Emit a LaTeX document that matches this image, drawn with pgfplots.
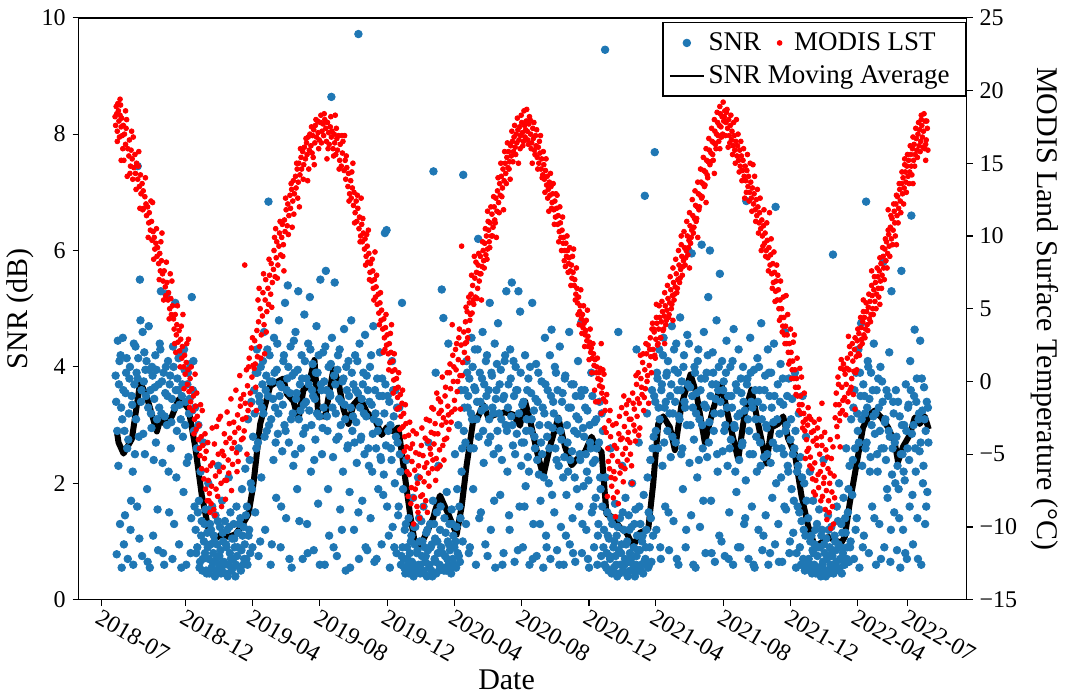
\documentclass[border=0pt]{standalone}
\usepackage{pgfplots}
\pgfplotsset{compat=1.18}
\usepackage{fontspec}
\setmainfont{Liberation Serif}
\definecolor{snrblue}{RGB}{31,119,180}
\definecolor{lstred}{RGB}{255,0,0}
\begin{document}
\begin{tikzpicture}
\pgfplotsset{
  common/.style={
    scale only axis, width=444pt, height=291pt,
    xmin=-41, xmax=1568,
    tick align=outside, major tick length=3pt,
    every tick/.style={black, line width=0.6pt},
    axis line style={line width=0.75pt},
    tick label style={font=\fontsize{12}{14}\selectfont},
    label style={font=\fontsize{15}{18}\selectfont},
  },
  snrmk/.style={only marks, mark=*, mark size=1.9pt, color=snrblue},
  lstmk/.style={only marks, mark=*, mark size=1.2pt, color=lstred},
}
\begin{axis}[common,
  ymin=0, ymax=10,
  xtick={0,153,274,396,518,640,762,884,1005,1127,1249,1370,1461},
  xticklabels={2018-07,2018-12,2019-04,2019-08,2019-12,2020-04,2020-08,2020-12,2021-04,2021-08,2021-12,2022-04,2022-07},
  xticklabel style={rotate=-30, anchor=north west, inner sep=1pt},
  ytick={0,2,4,6,8,10}, yticklabels={0,2,4,6,8,10},
  xtick pos=left, ytick pos=left,
  xlabel={Date}, ylabel={SNR (dB)},
  xlabel style={xshift=-8pt, yshift=1.5pt},
  ylabel shift=-3pt,
]
\addplot[snrmk] coordinates {
(26,3.85) (28,0.78) (30,4.45) (31,2.3) (33,4.1) (34,1.3) (36,3.3) (37,0.55) (39,4.5) (40,3.6) (42,2.9) (43,1.45) (45,3.9) (47,2.6) (48,0.7) (50,3.2) (52,4.0) (53,1.2) (55,3.5) (57,2.2) (58,0.6) (60,3.7) (62,4.35) (63,3.1) (65,1.6) (66,3.8) (66,7.45) (68,2.8) (70,5.5) (71,4.8) (72,3.4) (74,0.75) (75,4.6) (77,3.75) (79,2.5) (80,3.95) (82,4.1) (83,1.9) (85,3.3) (86,4.7) (88,0.55) (89,3.6) (91,2.95) (93,3.85) (94,1.1) (96,3.45) (98,4.2) (99,2.7) (101,3.1) (103,0.85) (104,3.7) (106,4.4) (108,5.3) (109,3.2) (111,2.35) (113,3.9) (114,0.6) (116,3.55) (118,5.25) (119,3.0) (121,4.1) (123,1.5) (124,3.7) (126,2.6) (128,3.45) (129,0.7) (131,4.0) (133,3.3) (134,5.1) (136,2.1) (138,3.8) (139,3.6) (141,0.95) (143,4.25) (144,3.1) (146,3.5) (148,2.8) (149,1.85) (151,3.95) (153,3.4) (154,0.6) (156,3.7) (158,2.45) (159,3.2) (161,4.05) (163,1.4) (164,5.2) (166,3.6) (168,2.9)
(170,3.3) (171,1.2) (173,2.6) (174,0.9) (176,3.0) (177,1.7) (179,0.65) (180,2.2) (182,1.35) (183,0.5) (185,2.7) (186,1.0) (188,0.8) (189,1.55) (191,0.45) (192,1.15) (194,2.0) (195,0.7) (197,1.3) (198,0.95) (200,0.55) (201,1.6) (203,0.8) (204,1.1) (206,0.4) (207,1.45) (209,0.7) (210,0.95) (212,2.3) (213,0.6) (215,1.25) (216,0.85) (218,0.5) (219,1.7) (221,1.0) (222,0.65) (224,1.35) (225,0.45) (227,0.9) (228,1.2) (230,0.6) (231,2.1) (233,0.8) (234,1.5) (236,0.5) (237,1.05) (239,0.7) (240,1.3) (242,0.9) (243,0.4) (245,1.6) (246,0.75) (248,1.15) (249,2.6) (251,0.55) (252,1.4) (254,0.85) (255,1.9) (257,0.6) (258,1.25) (260,0.95) (261,2.25) (263,0.7) (264,1.6) (266,3.1) (267,1.1) (269,2.4) (270,0.8) (272,3.4) (273,1.9) (275,2.8)
(277,3.6) (279,1.5) (280,3.9) (282,4.3) (284,2.7) (285,0.75) (287,3.4) (289,4.0) (290,2.1) (292,3.7) (294,3.2) (295,4.6) (297,1.2) (299,3.85) (300,2.9) (302,3.5) (303,6.84) (305,4.2) (307,0.6) (308,3.1) (310,3.75) (312,2.4) (313,4.5) (315,3.3) (317,1.75) (318,3.95) (320,2.85) (322,4.8) (323,3.5) (325,0.9) (327,3.65) (328,2.55) (330,4.1) (332,3.0) (333,5.1) (335,1.4) (337,3.8) (338,5.4) (340,2.7) (342,3.55) (343,4.35) (345,0.55) (347,3.2) (348,2.3) (350,3.9) (352,4.6) (353,3.45) (355,1.9) (357,5.3) (358,3.1) (360,3.7) (362,2.6) (363,4.2) (365,0.7) (367,3.35) (368,4.9) (370,2.95) (372,3.8) (373,1.3) (375,4.4) (377,3.25) (378,5.2) (380,2.2) (382,3.6) (383,4.05) (385,0.85) (387,3.45) (388,2.75) (390,4.7) (392,3.9) (393,1.65) (395,3.15) (397,5.5) (398,3.7) (400,2.5) (402,4.25) (403,3.3) (405,0.6) (407,5.65) (408,3.6) (410,2.9) (412,4.0) (413,1.1) (415,3.5) (417,8.64) (418,4.5) (420,2.45) (422,3.85) (423,5.45) (425,3.2) (427,0.75) (428,3.95) (430,2.8) (432,4.3) (433,1.55) (435,3.4) (437,3.75) (438,2.2) (440,4.65) (442,3.1) (443,0.5) (445,3.6) (447,2.65) (448,4.1) (450,1.85) (452,3.3) (453,4.8) (455,2.9) (457,3.7) (458,1.2) (460,4.2) (462,3.05) (463,2.35) (465,3.55) (466,9.72) (467,0.7) (468,4.4) (470,2.75) (472,3.45) (473,1.7) (475,3.9) (477,2.5) (478,4.55) (480,3.15) (482,0.85) (483,3.6) (485,2.3) (487,4.0) (488,1.4) (490,3.35) (492,2.85) (493,4.7) (495,0.65) (497,3.2) (498,2.6) (500,3.8) (502,1.9) (503,3.05) (505,4.25) (507,2.4) (508,0.95) (510,3.5) (512,2.15) (514,6.3) (515,3.7) (517,6.35) (518,1.6) (520,2.9) (522,3.4) (523,0.55) (525,2.6) (527,4.1) (528,1.25) (530,3.15) (532,2.0) (533,3.6) (535,0.8) (537,2.7) (538,1.45) (540,3.3) (542,2.2) (543,0.6) (545,5.1)
(547,1.9) (548,0.7) (550,1.2) (551,0.45) (553,2.4) (554,0.9) (556,0.6) (557,1.4) (559,0.8) (560,0.5) (562,1.1) (563,0.65) (565,1.75) (566,0.4) (568,0.95) (569,1.25) (571,0.55) (572,0.8) (574,2.1) (575,0.6) (577,1.0) (578,0.45) (580,1.35) (581,0.75) (583,0.5) (584,1.6) (586,0.9) (587,0.65) (589,1.15) (590,0.4) (592,0.85) (593,2.7) (595,0.6) (596,1.3) (598,0.5) (599,0.95) (601,1.7) (602,7.36) (604,0.7) (605,1.05) (606,3.9) (607,0.45) (608,1.5) (610,0.8) (611,2.3) (613,0.6) (614,1.2) (616,0.9) (617,5.33) (619,0.55) (620,4.84) (622,1.4) (623,0.75) (625,0.5) (626,1.85) (628,1.0) (629,4.4) (629,0.6) (631,1.3) (632,0.85) (634,0.45) (635,1.55) (637,0.7) (638,1.1) (640,0.9) (641,2.5) (643,0.55) (644,1.25) (646,0.8) (647,3.0) (649,1.6) (650,0.65) (652,3.6) (653,2.2) (655,1.0)
(656,7.3) (657,2.9) (659,3.6) (661,1.3) (662,4.1) (664,3.3) (666,0.8) (667,3.8) (669,2.6) (671,4.5) (672,3.1) (674,1.9) (676,3.65) (677,4.3) (679,0.6) (681,3.4) (683,6.2) (684,2.8) (686,3.9) (688,1.5) (689,3.25) (691,4.6) (693,2.35) (694,3.7) (696,0.95) (698,3.5) (699,4.2) (701,2.7) (703,3.1) (704,5.1) (706,1.2) (708,3.85) (709,3.3) (711,2.5) (713,4.4) (714,0.55) (716,3.6) (718,2.9) (719,4.75) (721,3.2) (723,1.8) (724,3.95) (726,2.4) (728,3.45) (729,0.8) (731,4.1) (733,3.0) (734,5.3) (736,2.2) (738,3.7) (739,1.45) (741,4.3) (743,3.15) (744,5.45) (746,2.65) (748,3.5) (749,0.65) (751,4.0) (753,2.85) (754,3.6) (756,5.3) (758,1.6) (759,4.95) (761,2.3) (763,3.35) (764,0.9) (766,2.7) (768,4.2) (769,1.95) (771,3.1) (773,2.45) (774,3.8) (776,0.6) (778,2.9) (779,3.55) (781,5.1) (783,1.3) (784,3.25) (786,2.6) (788,4.05) (789,0.75) (791,3.4) (793,2.15) (794,3.0) (796,1.7) (798,3.75) (799,2.5) (801,0.55) (803,3.2) (804,4.5) (806,1.1) (808,2.8) (809,3.6) (811,2.0) (813,4.2) (814,0.7) (816,4.64) (818,2.95) (819,3.4) (821,1.5) (823,2.6) (824,3.9) (826,0.85) (828,3.1) (829,2.3) (831,4.35) (833,1.25) (834,2.75) (836,3.55) (838,0.6) (839,2.45) (841,3.85) (843,1.8) (844,3.0) (846,2.2) (848,4.6) (849,0.95) (851,3.3) (853,2.55) (854,1.4) (856,3.7) (858,2.1) (859,0.65) (861,3.15) (863,2.85) (864,4.1) (866,1.6) (868,2.4) (869,3.5) (870,4.77) (871,0.8) (873,2.95) (874,1.95) (876,3.6) (878,2.5) (879,1.2) (881,3.25) (883,2.05) (884,0.55) (886,2.7) (888,3.9) (889,1.5) (891,2.35) (893,0.9) (894,3.05) (896,1.75) (898,2.6) (899,0.6) (901,1.3) (903,3.4) (904,2.1) (906,0.75) (908,1.6) (909,2.9)
(911,1.2) (912,0.6) (913,9.45) (914,2.1) (916,0.8) (917,1.5) (919,0.5) (920,1.05) (922,0.7) (923,2.6) (925,0.45) (926,1.3) (928,0.9) (929,0.55) (931,1.65) (932,0.75) (934,1.1) (935,0.4) (937,4.6) (938,0.85) (940,1.4) (941,0.6) (943,0.95) (944,2.3) (946,0.5) (947,1.2) (949,0.7) (950,1.75) (952,0.45) (953,1.0) (955,0.65) (956,1.45) (958,0.8) (959,0.5) (961,1.25) (962,2.0) (964,0.6) (965,0.9) (967,0.4) (968,1.55) (970,0.75) (970,4.3) (971,1.1) (973,0.5) (974,2.7) (976,0.85) (977,1.3) (979,0.6) (980,1.0) (982,0.45) (983,1.8) (985,6.94) (986,0.7) (988,1.2) (989,3.2) (991,0.55) (992,1.5) (994,0.9) (995,2.4) (997,0.65) (998,3.6) (1000,1.1)
(1001,2.8) (1003,7.69) (1004,3.4) (1006,1.2) (1007,3.9) (1009,2.6) (1011,4.3) (1012,3.1) (1014,0.7) (1016,3.7) (1017,2.3) (1019,4.5) (1021,3.3) (1022,1.6) (1024,3.85) (1026,2.9) (1027,4.1) (1029,0.85) (1031,3.5) (1032,2.45) (1034,4.7) (1036,3.2) (1037,1.35) (1039,3.95) (1041,2.7) (1042,4.4) (1044,3.6) (1046,0.6) (1047,3.15) (1049,4.85) (1051,2.5) (1052,3.75) (1054,1.9) (1056,4.2) (1057,3.4) (1059,0.9) (1061,3.0) (1062,4.55) (1064,6.0) (1066,2.35) (1067,3.65) (1069,1.45) (1070,5.95) (1072,3.3) (1074,2.75) (1075,4.0) (1077,0.55) (1079,3.55) (1080,2.1) (1082,4.3) (1084,3.1) (1085,1.25) (1087,3.8) (1088,6.1) (1090,2.6) (1092,4.6) (1093,3.35) (1095,0.8) (1097,3.9) (1098,2.45) (1100,5.2) (1102,3.05) (1103,6.0) (1105,1.7) (1107,3.7) (1108,4.25) (1110,2.9) (1112,0.65) (1113,3.45) (1115,4.8) (1117,2.2) (1118,3.6) (1120,1.1) (1121,5.6) (1123,3.2) (1125,4.1) (1126,2.55) (1128,3.75) (1130,0.75) (1131,3.0) (1133,4.45) (1135,2.3) (1136,3.5) (1138,1.5) (1140,4.0) (1141,2.75) (1143,3.3) (1145,0.6) (1146,4.65) (1148,2.95) (1150,3.7) (1151,1.85) (1153,3.15) (1155,4.3) (1156,2.4) (1158,0.9) (1160,3.55) (1161,2.65) (1163,4.0) (1165,1.3) (1166,3.25) (1168,2.05) (1169,6.85) (1171,3.8) (1173,0.7) (1174,2.9) (1176,4.5) (1178,3.4) (1179,1.6) (1181,2.5) (1183,3.95) (1184,0.55) (1186,3.1) (1188,2.2) (1189,4.15) (1191,1.2) (1193,3.6) (1194,2.7) (1196,4.75) (1198,0.85) (1199,3.3) (1201,2.45) (1203,3.85) (1204,1.45) (1206,2.95) (1208,4.3) (1209,0.6) (1211,3.5) (1213,2.35) (1214,3.9) (1216,1.75) (1218,3.05) (1219,4.4) (1221,0.95) (1222,6.75) (1224,2.6) (1226,3.7) (1227,1.3) (1229,2.85) (1231,4.05) (1232,2.1) (1234,0.65) (1236,3.35) (1237,2.5) (1239,4.6) (1241,1.55) (1242,3.0) (1244,2.3) (1246,3.8) (1247,0.8) (1249,2.75) (1251,1.9) (1252,3.45) (1254,1.15) (1256,2.6) (1257,3.9) (1259,0.55) (1261,2.2) (1262,1.6) (1264,3.2) (1266,0.9) (1267,2.45) (1269,1.35) (1271,3.5) (1272,0.7) (1274,2.0) (1276,1.1) (1277,2.8) (1279,0.6)
(1281,1.4) (1282,0.7) (1284,2.2) (1286,0.5) (1287,1.1) (1289,0.85) (1290,1.7) (1292,0.6) (1293,0.95) (1295,0.45) (1297,1.3) (1298,0.75) (1300,0.55) (1301,1.55) (1303,0.9) (1304,0.4) (1306,1.2) (1308,0.65) (1309,2.4) (1311,0.8) (1312,0.5) (1314,1.05) (1315,0.7) (1317,1.45) (1319,0.45) (1320,0.9) (1322,0.6) (1323,1.25) (1325,0.75) (1326,5.93) (1328,0.5) (1329,1.1) (1331,0.85) (1333,1.6) (1334,0.55) (1336,0.95) (1337,2.0) (1339,0.7) (1341,1.3) (1342,0.45) (1344,0.8) (1345,1.75) (1347,0.6) (1349,1.15) (1350,2.6) (1352,0.9) (1353,1.5) (1355,0.65) (1356,2.3) (1358,1.0) (1359,3.1)
(1361,1.8) (1363,3.3) (1364,0.7) (1366,2.6) (1368,3.9) (1369,1.4) (1371,2.9) (1372,4.3) (1374,0.55) (1376,3.5) (1377,4.75) (1379,2.3) (1381,3.7) (1382,1.1) (1384,3.2) (1386,6.84) (1387,2.7) (1389,4.1) (1391,0.8) (1392,3.45) (1394,2.45) (1395,3.9) (1397,1.6) (1399,3.15) (1400,4.4) (1402,2.85) (1404,0.6) (1405,3.6) (1407,2.2) (1409,3.3) (1410,1.3) (1412,4.0) (1414,2.6) (1415,3.75) (1417,5.8) (1419,0.9) (1420,3.05) (1422,2.4) (1423,3.6) (1425,1.75) (1427,2.9) (1428,4.25) (1430,0.65) (1432,5.3) (1433,2.15) (1435,3.4) (1437,1.5) (1438,2.7) (1440,3.6) (1442,0.85) (1443,2.3) (1445,1.9) (1447,3.15) (1448,0.55) (1450,5.65) (1452,2.5) (1453,1.2) (1455,3.0) (1456,2.05) (1458,3.7) (1460,0.7) (1461,2.6) (1463,3.35) (1465,1.6) (1466,4.1) (1468,6.6) (1469,2.85) (1471,0.95) (1473,3.5) (1474,4.64) (1476,2.2) (1478,3.8) (1479,1.4) (1481,3.1) (1483,2.55) (1484,4.45) (1486,0.6) (1488,3.25) (1489,2.0) (1491,3.65) (1493,1.3) (1494,2.9) (1496,3.4) (1497,1.85) (1499,2.7)
};
\addplot[snrmk] coordinates {
(27,3.4) (29,2.9) (32,3.7) (35,4.2) (38,3.1) (41,0.95) (44,3.55) (46,4.15) (49,2.75) (51,3.8) (54,1.7) (56,3.35) (59,4.4) (61,2.5) (64,3.9) (67,4.15) (69,1.05) (73,3.6) (76,2.85) (78,4.25) (81,3.5) (84,0.65) (87,3.95) (90,3.2) (92,4.0) (95,2.4) (97,3.65) (100,3.95) (102,1.55) (105,3.3) (107,4.3) (110,3.75) (112,0.8) (115,3.15) (117,4.0) (120,3.5) (122,2.2) (125,3.85) (127,3.05) (130,4.35) (132,1.3) (135,3.6) (137,2.9) (140,4.15) (142,3.35) (145,0.55) (147,3.7) (150,4.3) (152,3.0) (155,2.35) (157,3.9) (160,3.45) (162,0.8) (165,3.25) (167,4.1) (169,1.6)
(172,0.8) (175,1.5) (178,0.55) (181,1.1) (184,0.7) (187,1.3) (190,0.5) (193,0.9) (196,0.45) (199,1.2) (202,0.65) (205,1.0) (208,0.5) (211,1.35) (214,0.75) (217,0.45) (220,1.15) (223,0.6) (226,0.95) (229,0.4) (232,1.25) (235,0.7) (238,0.55) (241,1.05) (244,0.6) (247,0.9) (250,1.3) (253,0.5) (256,1.1) (259,0.7) (262,1.45) (265,0.6) (268,1.2) (271,2.0) (274,0.9)
(278,3.2) (281,2.6) (283,3.9) (286,3.5) (288,1.0) (291,3.3) (293,4.1) (296,2.8) (298,3.6) (301,4.3) (304,3.0) (306,3.75) (309,0.95) (311,3.45) (314,3.9) (316,2.7) (319,4.4) (321,3.2) (324,3.7) (326,1.6) (329,3.35) (331,4.2) (334,2.9) (336,3.6) (339,4.0) (341,0.7) (344,3.1) (346,3.85) (349,4.45) (351,2.5) (354,3.55) (356,3.95) (359,1.35) (361,3.25) (364,3.8) (366,2.85) (369,4.1) (371,3.4) (374,0.8) (376,3.7) (379,4.3) (381,3.0) (384,3.5) (386,2.4) (389,3.9) (391,3.2) (394,4.2) (396,0.6) (399,3.6) (401,2.95) (404,3.75) (406,4.35) (409,3.15) (411,1.9) (414,3.55) (416,4.05) (419,3.3) (421,0.9) (424,3.7) (426,2.75) (429,4.2) (431,3.45) (434,3.0) (436,1.2) (439,3.8) (441,3.35) (444,4.0) (446,2.6) (449,3.5) (451,0.55) (454,3.9) (456,3.15) (459,2.7) (461,3.6) (464,4.1) (466,1.5) (469,3.3) (471,2.8) (474,3.7) (476,3.2) (479,0.9) (481,3.85) (484,2.6) (486,3.4) (489,4.2) (491,2.2) (494,3.1) (496,3.6) (499,0.7) (501,2.9) (504,3.5) (506,2.45) (509,3.8) (511,1.8) (513,3.2) (516,2.65) (519,3.5) (521,1.1) (524,3.0) (526,2.4) (529,3.6) (531,0.9) (534,2.8) (536,3.3) (539,1.6) (541,2.5) (544,0.75)
(546,0.9) (549,0.55) (552,1.3) (555,0.7) (558,0.45) (561,1.0) (564,0.6) (567,1.25) (570,0.5) (573,0.85) (576,1.4) (579,0.6) (582,1.0) (585,0.45) (588,0.75) (591,1.2) (594,0.55) (597,0.9) (600,0.4) (603,1.3) (606,0.65) (609,1.0) (612,0.5) (615,1.6) (618,0.8) (621,0.5) (624,1.15) (627,0.7) (630,0.95) (633,0.55) (636,1.3) (639,0.6) (642,1.0) (645,1.9) (648,0.75) (651,1.4) (654,2.6)
(658,3.3) (660,2.7) (663,3.9) (665,3.5) (668,0.9) (670,3.2) (673,4.0) (675,2.6) (678,3.6) (680,3.1) (682,4.3) (685,1.4) (687,3.4) (690,3.8) (692,2.9) (695,3.3) (697,4.1) (700,0.75) (702,3.6) (705,2.8) (707,3.9) (710,3.2) (712,1.7) (715,3.45) (717,4.05) (720,2.6) (722,3.7) (725,3.1) (727,0.6) (730,3.5) (732,4.2) (735,2.9) (737,3.3) (740,1.2) (742,3.8) (745,3.0) (747,4.1) (750,2.5) (752,3.6) (755,0.85) (757,3.2) (760,3.9) (762,2.7) (765,3.4) (767,1.6) (770,2.9) (772,3.6) (775,2.2) (777,4.0) (780,3.1) (782,0.7) (785,2.8) (787,3.45) (790,2.4) (792,3.9) (795,1.3) (797,2.7) (800,3.3) (802,2.1) (805,3.7) (807,0.9) (810,3.0) (812,2.6) (815,3.5) (817,1.8) (820,3.2) (822,4.0) (825,2.4) (827,3.6) (830,0.6) (832,2.9) (835,3.4) (837,2.1) (840,3.8) (842,1.1) (845,2.7) (847,3.3) (850,2.4) (852,3.7) (855,0.8) (857,2.9) (860,3.5) (862,1.9) (865,3.1) (867,2.5) (870,3.6) (872,1.3) (875,2.8) (877,3.3) (880,2.2) (882,0.7) (885,3.0) (887,2.6) (890,3.5) (892,1.6) (895,2.4) (897,3.1) (900,1.1) (902,2.7) (905,1.9) (907,3.2)
(910,0.9) (915,0.55) (918,1.1) (921,0.75) (924,1.4) (927,0.5) (930,1.0) (933,0.6) (936,1.25) (939,0.45) (942,0.8) (945,1.5) (948,0.6) (951,0.95) (954,0.4) (957,1.2) (960,0.7) (963,0.5) (966,1.3) (969,0.6) (972,0.85) (975,1.6) (978,0.5) (981,1.1) (984,0.65) (987,0.9) (990,2.1) (993,0.6) (996,1.4) (999,2.6)
(1002,3.5) (1005,2.9) (1008,3.8) (1010,3.3) (1013,0.9) (1015,3.6) (1018,4.2) (1020,2.7) (1023,3.4) (1025,3.9) (1028,1.5) (1030,3.2) (1033,3.7) (1035,2.8) (1038,4.3) (1040,3.4) (1043,0.7) (1045,3.9) (1048,3.1) (1050,3.6) (1053,2.6) (1055,4.0) (1058,3.3) (1060,1.2) (1063,3.7) (1065,4.4) (1068,3.0) (1071,3.5) (1073,0.6) (1076,3.9) (1078,3.2) (1081,4.1) (1083,2.4) (1086,3.6) (1089,3.0) (1091,1.7) (1094,3.8) (1096,3.3) (1099,4.2) (1101,2.7) (1104,3.5) (1106,0.8) (1109,3.9) (1111,3.2) (1114,3.7) (1116,2.5) (1119,4.0) (1122,3.4) (1124,1.0) (1127,3.6) (1129,2.9) (1132,3.9) (1134,3.3) (1137,0.7) (1139,2.6) (1142,3.5) (1144,4.1) (1147,3.0) (1149,2.2) (1152,3.6) (1154,0.9) (1157,3.2) (1159,3.8) (1162,2.7) (1164,3.4) (1167,1.4) (1170,3.7) (1172,3.1) (1175,2.5) (1177,3.9) (1180,3.3) (1182,0.6) (1185,3.6) (1187,2.8) (1190,3.4) (1192,4.0) (1195,2.3) (1197,3.1) (1200,1.1) (1202,3.6) (1205,3.0) (1207,2.5) (1210,3.9) (1212,0.8) (1215,3.3) (1217,2.7) (1220,3.5) (1223,2.0) (1225,3.1) (1228,0.65) (1230,3.4) (1233,2.6) (1235,3.8) (1238,1.6) (1240,2.9) (1243,3.5) (1245,2.2) (1248,1.0) (1250,3.1) (1253,2.5) (1255,1.7) (1258,2.9) (1260,0.8) (1263,2.3) (1265,1.5) (1268,0.6) (1270,2.1) (1273,1.2) (1275,0.5) (1278,1.7)
(1283,0.6) (1285,1.0) (1288,0.45) (1291,0.8) (1294,1.2) (1296,0.55) (1299,0.9) (1302,0.45) (1305,1.1) (1307,0.6) (1310,0.95) (1313,0.4) (1316,0.75) (1318,1.2) (1321,0.55) (1324,0.85) (1327,0.45) (1330,1.0) (1332,0.65) (1335,1.35) (1338,0.5) (1340,0.9) (1343,1.15) (1346,0.6) (1348,1.4) (1351,0.7) (1354,1.9) (1357,0.9)
(1362,2.4) (1365,3.6) (1367,1.2) (1370,3.2) (1373,2.7) (1375,3.9) (1378,3.1) (1380,0.9) (1383,3.5) (1385,2.6) (1388,3.3) (1390,4.0) (1393,2.2) (1396,3.0) (1398,3.6) (1401,1.4) (1403,3.2) (1406,2.5) (1408,3.8) (1411,2.9) (1413,0.7) (1416,3.4) (1418,2.6) (1421,3.1) (1424,1.9) (1426,3.5) (1429,2.8) (1431,1.2) (1434,2.6) (1436,3.2) (1439,2.0) (1441,2.8) (1444,3.4) (1446,1.4) (1449,2.5) (1451,3.0) (1454,2.2) (1457,0.8) (1459,2.9) (1462,3.3) (1464,2.4) (1467,3.6) (1470,1.8) (1472,3.0) (1475,2.6) (1477,3.4) (1480,0.7) (1482,3.2) (1485,2.7) (1487,3.8) (1490,2.3) (1492,3.1) (1495,1.6) (1498,3.3)
};
\addplot[black, line width=3pt, line join=round] coordinates {
(28.3,2.89) (31.3,2.70) (40.4,2.51) (55.4,2.76) (70.6,3.74) (82.6,3.48) (100.7,2.89) (106.8,3.09) (115.9,3.02) (127.9,3.15) (140,3.44) (152.1,3.35) (158.1,3.28) (170.2,2.63) (182.2,1.79) (194.3,1.21) (206.5,1.05) (218.4,1.12) (230.5,1.08) (242.7,1.12) (254.6,1.27) (266.8,1.47) (275.8,1.99) (284.9,2.77) (288,3.02) (306.1,3.67) (318,3.74) (330.1,3.80) (336.1,3.54) (348.3,3.41) (357.3,3.09) (366.4,3.61) (375.4,3.67) (386.3,4.12) (393.5,3.15) (405.7,3.15) (420.7,3.96) (429.8,3.74) (438.8,3.28) (447.9,3.02) (456.9,3.35) (469,3.48) (481,3.22) (496.2,3.09) (508.2,2.83) (517.2,2.96) (529.4,2.89) (538.4,2.96) (547.5,2.31) (559.6,1.47) (568.7,0.95) (577.7,0.92) (589.7,1.15) (601.8,1.41) (604.9,1.53) (613.9,1.79) (619.9,1.66) (629,1.47) (644,1.12) (653.1,1.60) (662.1,2.31) (674.2,3.09) (683.3,3.15) (692.3,3.35) (701.4,3.13) (713.5,3.18) (731.6,3.22) (746.7,3.18) (758.8,2.99) (767.9,3.41) (776.9,3.09) (788.9,2.57) (801,2.12) (813.1,2.63) (828.2,3.13) (840.3,2.63) (852.3,2.31) (864.4,2.44) (876.5,2.54) (888.5,2.80) (897.5,2.63) (906.6,2.54) (915.6,1.47) (927.7,1.41) (939.9,1.24) (951.8,1.15) (964,0.92) (976.1,1.15) (991.2,1.21) (1000.2,1.99) (1009.3,3.02) (1018.3,3.15) (1030.5,2.96) (1039.5,2.57) (1051.5,3.35) (1067.8,3.87) (1078.6,3.54) (1093.8,2.70) (1108.9,3.28) (1123.9,3.70) (1139.1,3.02) (1154.2,2.41) (1166.3,3.22) (1178.3,3.61) (1190.4,3.02) (1205.4,2.34) (1214.5,2.96) (1226.6,3.02) (1235.7,3.15) (1244.7,2.77) (1256.8,2.51) (1268.8,1.79) (1280.9,1.27) (1293,0.92) (1305,0.98) (1317.1,1.08) (1329.2,1.02) (1341.2,0.98) (1347.4,1.08) (1356.4,1.66) (1368.4,2.31) (1380.5,2.96) (1392.7,3.18) (1401.7,3.25) (1413.7,3.13) (1425.8,2.96) (1437.9,2.70) (1443.9,2.37) (1453,2.63) (1465.1,2.83) (1474.2,3.13) (1483.2,3.02) (1492.3,3.15) (1499.5,2.93)
};
\end{axis}
\begin{axis}[common,
  ymin=-15, ymax=25,
  axis x line=none, axis y line*=right,
  tick align=outside,
  ytick={-15,-10,-5,0,5,10,15,20,25},
  yticklabels={−15,−10,−5,0,5,10,15,20,25},
  ylabel={MODIS Land Surface Temperature (°C)},
  ylabel style={rotate=180},
  legend columns=2, legend cell align=left,
  legend style={at={(1,1)}, anchor=north east, xshift=0pt, yshift=-2pt,
    draw=black, line width=0.75pt, font=\fontsize{13.5}{15}\selectfont,
    inner sep=3pt, row sep=2pt,
    /tikz/every even column/.append style={column sep=6pt}},
]
\addlegendimage{snrmk, line width=0.4pt}
\addlegendentry{SNR}
\addlegendimage{lstmk, line width=0.4pt}
\addlegendentry{\rule{4pt}{0pt}MODIS LST\rule{10pt}{0pt}}
\addlegendimage{black, line width=0.8pt}
\addlegendentry{\makebox[0pt][l]{SNR Moving Average}}
\addplot[lstmk, forget plot] coordinates {
(25,18.2) (26,17.6) (27,18.9) (28,18.4) (29,17.2) (30,19.1) (31,18.6) (32,17.9) (33,16.8) (34,18.3) (35,19.0) (36,17.5) (37,18.1) (38,16.9) (40,17.6) (41,15.2) (42,17.0) (44,16.3) (45,17.4) (47,14.1) (48,16.0) (50,15.5) (51,16.6) (53,14.8) (54,15.9) (56,15.3) (57,13.9) (59,14.7)
(61,15.6) (62,14.3) (64,15.0) (66,13.9) (67,14.8) (69,13.4) (71,14.2) (72,12.9) (74,13.6) (76,13.1) (77,11.9) (79,12.7) (81,12.2) (82,11.4) (84,12.0) (86,10.9) (87,11.6) (89,10.4) (91,11.0) (92,9.7) (94,10.3) (96,9.9) (97,9.1) (99,9.5) (101,8.6) (102,9.2) (104,8.1) (106,8.8) (107,7.6) (109,8.3) (111,7.4) (112,6.9) (114,7.6) (116,6.5) (117,5.9) (119,6.8) (121,5.6) (122,6.1) (124,5.0) (126,5.7) (127,4.6) (129,5.2) (131,4.3) (132,3.6) (134,4.6) (136,3.2) (137,3.9) (139,2.7) (141,3.5) (142,2.1) (144,2.9) (146,1.6) (147,2.4) (149,1.0) (151,1.8) (152,0.5) (154,1.3) (156,-0.2) (157,0.8) (159,-0.7) (161,0.2) (162,-1.4) (164,-0.5) (166,-2.0) (167,-1.0) (169,-2.6) (171,-1.7) (172,-3.3) (174,-2.4) (176,-4.0) (177,-3.0) (179,-5.1) (181,-3.8) (182,-6.0) (184,-4.4) (186,-6.7) (187,-5.3) (189,-7.4) (191,-6.1) (192,-8.2) (194,-6.8) (196,-7.7) (197,-9.0) (199,-8.4)
(200,-7.2) (202,-5.6) (204,-8.8) (205,-4.3) (207,-6.5) (209,-3.1) (211,-7.9) (212,-5.0) (214,-6.2) (216,-2.4) (217,-7.0) (219,-4.8) (221,-5.9) (223,-3.6) (224,-6.8) (226,-4.2) (228,-2.1) (230,-5.4) (231,-6.3) (233,-3.9) (235,-1.2) (237,-4.6) (238,-5.7) (240,-2.8) (242,-3.5) (244,-0.6) (245,-4.9) (247,-2.3) (249,-3.2) (251,0.4) (252,-1.7) (254,-4.0) (256,-2.6) (258,-0.9) (259,-3.4) (260,8.0) (261,-1.5) (263,0.8) (265,-0.3) (266,-2.0) (268,1.6) (270,-0.8) (272,2.3) (273,0.3) (275,1.1)
(277,0.9) (278,2.8) (280,-0.4) (282,3.5) (283,1.7) (285,4.1) (287,2.4) (288,5.0) (290,3.2) (292,4.5) (293,6.1) (295,3.9) (297,5.6) (298,7.0) (300,4.8) (302,6.4) (303,5.3) (305,7.3) (307,6.0) (308,8.1) (310,6.8) (312,7.7) (313,9.0) (315,7.2) (317,8.5) (318,9.6) (320,8.0) (322,9.3) (323,10.2) (325,8.7) (327,9.9) (328,10.8) (330,9.4) (332,11.1) (333,10.3) (335,11.8) (337,10.7) (338,12.2) (340,11.4) (342,12.8) (343,11.9) (345,13.2) (347,12.4) (348,13.8) (350,12.9) (352,14.1) (353,13.3) (355,14.6) (357,13.7) (358,15.0) (360,14.2) (362,15.4) (363,14.6) (365,15.8) (367,14.9) (368,16.1) (370,15.3) (372,16.4) (373,15.6) (375,16.8) (377,15.9) (378,17.0) (380,16.2) (382,15.7) (383,16.9) (385,17.3) (387,16.4) (388,17.6) (390,16.8) (392,17.9) (393,17.1) (395,16.6) (397,17.8) (398,18.3) (400,17.2)
(402,17.7) (403,16.9) (405,18.0) (407,17.4) (408,16.5) (410,17.8) (412,17.1) (413,16.3) (415,17.5) (417,16.8) (418,17.2) (420,16.0) (422,17.0) (423,16.4) (425,15.6) (427,16.7) (428,15.9) (430,16.9) (432,15.2) (433,16.3) (435,14.8) (437,15.7) (438,16.5) (440,14.5) (442,15.2) (443,13.9) (445,14.7) (447,13.4) (448,14.3) (450,12.9) (452,13.8) (453,12.6) (455,13.3) (457,12.1) (458,13.0) (460,11.6) (462,12.4) (463,11.0) (465,11.9) (467,10.5) (468,11.3) (470,10.0) (472,10.8) (473,9.6) (475,10.2) (477,9.1) (478,9.8) (480,8.6) (482,9.3) (483,8.2) (485,8.8) (487,7.5) (488,8.1) (490,6.9) (492,7.6) (493,6.4) (495,7.0) (497,5.8) (498,6.5) (500,5.3) (502,6.0) (503,4.7) (505,5.4) (507,4.2) (508,4.9) (510,3.6) (512,4.3) (513,3.0) (515,3.7) (517,2.5) (518,3.2) (520,1.9) (522,2.6) (523,1.3) (525,2.0) (527,0.7) (528,1.4) (530,0.1) (532,0.8) (533,-0.5) (535,0.2) (537,-1.1) (538,-0.4) (540,-1.8) (542,-0.9) (543,-2.4) (545,-1.5) (547,-3.1) (548,-2.2) (550,-3.8) (552,-2.9) (553,-4.5)
(555,-5.2) (557,-3.7) (558,-6.4) (560,-4.6) (562,-7.3) (563,-5.5) (565,-3.4) (567,-8.0) (568,-6.1) (570,-4.9) (572,-8.6) (573,-7.0) (575,-5.8) (577,-9.4) (578,-6.6) (580,-4.4) (582,-7.8) (583,-5.1) (585,-6.9) (587,-3.9) (588,-8.2) (590,-5.6) (592,-4.1) (593,-6.3) (595,-2.7) (597,-5.0) (598,-3.5) (600,-6.0) (602,-1.9) (603,-4.3) (605,-2.9) (607,-5.3) (608,-0.8) (610,-3.6) (612,-2.2) (613,-4.7) (615,-1.4) (617,-3.0) (618,0.3) (620,-2.5) (622,-4.0) (623,-1.0) (625,-2.8) (627,0.6) (628,-1.7) (630,-3.3) (632,1.2) (633,-0.5) (635,-2.1) (637,1.8) (638,0.0) (640,-1.3) (642,2.2) (643,0.8) (645,-0.7) (647,1.5) (648,3.0) (650,0.4) (652,2.5) (653,9.3) (655,1.3)
(657,3.4) (658,2.0) (660,4.1) (662,2.7) (663,4.8) (665,3.5) (667,5.4) (668,4.2) (670,6.0) (672,4.7) (673,6.6) (675,5.3) (677,7.1) (678,5.8) (680,7.5) (682,6.4) (683,8.0) (685,6.9) (687,8.6) (688,7.4) (690,7.9) (692,9.0) (693,8.3) (695,9.5) (697,8.7) (698,10.0) (700,9.1) (702,10.4) (703,9.6) (705,10.9) (707,10.0) (708,11.5) (710,10.6) (712,12.0) (713,11.1) (715,12.6) (717,11.7) (718,13.1) (720,12.3) (722,13.6) (723,12.8) (725,14.1) (727,13.3) (728,14.6) (730,13.8) (732,15.0) (733,14.3) (735,15.4) (737,14.7) (738,15.8) (740,15.1) (742,16.2) (743,15.5) (745,16.5) (747,15.8) (748,16.8) (750,16.1) (752,17.0) (753,16.4) (755,17.3) (757,16.6) (758,17.5) (760,16.9) (762,17.8) (763,17.1) (765,16.5) (767,17.6) (768,16.8) (770,17.9) (772,17.2) (773,16.6) (775,17.7) (777,18.0) (778,17.0) (780,16.4) (782,17.4) (783,16.7) (785,15.9) (787,16.9) (788,16.2)
(790,15.4) (792,16.1) (793,15.0) (795,15.7) (797,14.6) (798,15.3) (800,14.2) (802,14.9) (803,13.9) (805,14.5) (807,13.5) (808,14.1) (810,13.2) (812,13.7) (813,12.8) (815,13.4) (817,12.3) (818,12.9) (820,11.8) (822,12.4) (823,11.3) (825,11.9) (827,10.8) (828,11.4) (830,10.3) (832,10.9) (833,9.9) (835,10.4) (837,9.5) (838,9.9) (840,9.0) (842,9.5) (843,8.6) (845,9.0) (847,8.1) (848,8.5) (850,7.6) (852,8.0) (853,7.1) (855,7.5) (857,6.6) (858,7.0) (860,6.0) (862,6.4) (863,5.4) (865,5.8) (867,4.8) (868,5.2) (870,4.3) (872,4.6) (873,3.7) (875,4.0) (877,3.2) (878,3.5) (880,2.8) (882,3.1) (883,2.4) (885,2.7) (887,2.0) (888,2.3) (890,1.6) (892,1.9) (893,1.1) (895,1.5) (897,0.6) (898,1.0) (900,0.2) (902,0.6) (903,-0.3) (905,0.1) (907,-0.8) (908,-0.4)
(910,-1.2) (911,0.5) (913,-2.0) (915,-3.5) (916,-0.9) (918,-4.6) (920,-2.7) (921,-6.0) (923,-3.8) (925,-7.2) (926,-5.1) (928,-8.0) (930,-4.4) (931,-6.7) (933,-2.9) (935,-7.6) (936,-5.5) (938,-3.6) (940,-6.3) (941,-4.0) (943,-1.8) (945,-5.0) (946,-6.9) (948,-3.1) (950,-4.6) (951,-2.2) (953,-5.4) (955,-3.5) (956,-1.3) (958,-4.2) (960,-2.6) (961,-5.8) (963,-0.8) (965,-3.0) (966,-1.9) (968,-4.1) (970,-0.2) (971,-2.4) (973,0.6) (975,-1.5) (976,-3.2) (978,0.2) (980,-0.9) (981,1.3) (983,-2.0) (985,0.8) (986,-0.5) (988,1.9) (990,0.4) (991,2.5) (993,1.1) (995,3.0) (996,1.7) (998,3.6)
(1000,2.2) (1002,3.4) (1003,1.8) (1005,2.9) (1007,4.0) (1008,2.5) (1010,3.6) (1012,4.4) (1013,3.0) (1015,4.1) (1017,4.8) (1018,3.5) (1020,4.5) (1022,5.2) (1023,3.9) (1025,4.9) (1027,5.7) (1028,4.4) (1030,5.4) (1032,6.3) (1033,5.0) (1035,5.9) (1037,6.8) (1038,5.6) (1040,6.5) (1042,7.4) (1043,6.1) (1045,7.0) (1047,8.0) (1048,6.8) (1050,7.7) (1052,8.6) (1053,7.3) (1055,8.3) (1057,9.2) (1058,8.0) (1060,9.0) (1062,10.0) (1063,8.7) (1065,9.7) (1067,10.7) (1068,9.5) (1070,10.4) (1072,11.4) (1073,10.2) (1075,11.2) (1077,12.1) (1078,11.0) (1080,12.0) (1082,12.9) (1083,11.8) (1085,12.8) (1087,13.7) (1088,12.6) (1090,13.6) (1092,14.5) (1093,13.4) (1095,14.4) (1097,15.2) (1098,14.2) (1100,15.1) (1102,15.9) (1103,14.9) (1105,15.7) (1107,16.5) (1108,15.6) (1110,16.4) (1112,17.2) (1113,16.3) (1115,17.0) (1117,17.8) (1118,16.9) (1120,17.6) (1122,18.4) (1123,17.5) (1125,18.2) (1127,19.2) (1128,17.9) (1130,18.6)
(1132,17.8) (1133,18.5) (1135,17.4) (1137,18.0) (1138,16.9) (1140,17.6) (1142,16.6) (1143,17.2) (1145,16.2) (1147,16.9) (1148,15.9) (1150,16.5) (1152,15.5) (1153,16.2) (1155,15.2) (1157,15.9) (1158,14.8) (1160,15.5) (1162,14.5) (1163,15.2) (1165,14.1) (1167,14.8) (1168,13.8) (1170,14.5) (1172,13.4) (1173,14.1) (1175,13.0) (1177,13.7) (1178,12.6) (1180,13.3) (1182,12.2) (1183,12.9) (1185,11.8) (1187,12.5) (1188,11.4) (1190,12.0) (1192,10.9) (1193,11.6) (1195,10.5) (1197,11.1) (1198,10.0) (1200,10.7) (1202,9.5) (1203,10.2) (1205,9.0) (1207,9.7) (1208,8.5) (1210,9.2) (1212,8.0) (1213,8.7) (1215,7.4) (1217,8.1) (1218,6.8) (1220,7.5) (1222,6.2) (1223,6.9) (1225,5.6) (1227,6.3) (1228,5.0) (1230,5.6) (1232,4.4) (1233,5.0) (1235,3.8) (1237,4.4) (1238,3.2) (1240,3.8) (1242,2.6) (1243,3.2) (1245,2.0) (1247,2.6) (1248,1.4) (1250,2.0) (1252,0.8) (1253,1.4) (1255,0.2) (1257,0.8) (1258,-0.4) (1260,0.2) (1262,-1.0) (1263,-0.4) (1265,-1.6) (1267,-1.0) (1268,-2.2) (1270,-1.6) (1272,-2.8) (1273,-2.2) (1275,-3.4) (1277,-2.6) (1278,-4.0)
(1280,-3.0) (1282,-4.6) (1283,-2.4) (1285,-5.2) (1287,-3.5) (1288,-6.0) (1290,-4.1) (1292,-2.8) (1293,-5.6) (1295,-6.8) (1297,-4.4) (1298,-3.2) (1300,-7.3) (1302,-5.0) (1303,-6.2) (1305,-3.8) (1307,-7.9) (1308,-5.7) (1310,-6.6) (1312,-8.8) (1313,-4.7) (1315,-9.5) (1317,-6.0) (1318,-8.2) (1320,-7.0) (1322,-10.1) (1323,-5.3) (1325,-8.6) (1327,-9.8) (1328,-6.5) (1330,-2.5) (1332,-0.8) (1333,-3.1) (1335,0.3) (1337,-1.6) (1338,-2.7) (1340,0.9) (1342,-0.4) (1343,-2.0) (1345,1.2) (1347,-1.1) (1348,0.5) (1350,-0.2) (1352,1.6) (1353,-1.4) (1355,0.8) (1357,-0.6) (1358,1.9) (1360,0.2) (1362,1.4) (1363,-0.9) (1365,2.2) (1367,0.6) (1368,1.7)
(1370,2.8) (1372,1.9) (1373,3.3) (1375,2.4) (1377,3.7) (1378,2.9) (1380,4.1) (1382,3.2) (1383,4.4) (1385,3.6) (1387,4.8) (1388,3.9) (1390,5.1) (1392,4.3) (1393,5.5) (1395,4.6) (1397,5.9) (1398,5.0) (1400,6.3) (1402,5.5) (1403,6.8) (1405,6.0) (1407,7.2) (1408,6.4) (1410,7.6) (1412,6.9) (1413,8.1) (1415,7.3) (1417,8.6) (1418,7.8) (1420,9.1) (1422,8.3) (1423,9.6) (1425,8.8) (1427,10.1) (1428,9.3) (1430,10.6) (1432,9.8) (1433,11.2) (1435,10.4) (1437,11.7) (1438,10.9) (1440,12.2) (1442,11.4) (1443,12.7) (1445,11.9) (1447,13.2) (1448,12.4) (1450,13.6) (1452,12.9) (1453,14.0) (1455,13.3) (1457,14.4) (1458,13.7) (1460,14.8) (1462,14.1) (1463,15.2) (1465,14.4) (1467,15.6) (1468,14.8) (1470,16.0) (1472,15.2) (1473,16.3) (1475,15.6) (1477,16.7) (1478,15.9) (1480,17.0) (1482,16.2) (1483,17.3) (1485,16.5) (1487,17.6) (1488,16.8) (1490,17.2) (1492,16.0) (1493,17.9) (1495,16.6) (1497,17.4)
(36,15.2) (44,18.6) (58,16.8) (70,11.9) (93,12.3) (110,10.2) (125,7.4) (135,2.0) (148,4.6) (158,2.9) (170,0.5) (180,-1.6) (188,-3.6) (193,-4.2) (198,-5.8) (206,-9.2) (225,-8.1) (246,-6.2) (264,-5.0) (281,-2.0) (286,6.4) (296,1.9) (316,10.5) (331,7.6) (346,10.6) (359,12.0) (374,13.8) (386,14.9) (409,15.3) (424,18.3) (441,16.9) (456,15.0) (471,12.6) (484,10.4) (496,8.9) (511,2.0) (526,3.9) (541,-3.3) (556,-7.9) (566,-9.8) (591,-9.0) (606,-6.8) (621,-5.4) (636,3.9) (651,-1.9) (664,1.6) (676,8.6) (689,5.6) (700,11.7) (716,9.9) (729,11.8) (741,13.9) (756,15.0) (766,18.6) (781,15.0) (796,16.9) (811,11.7) (826,12.8) (841,7.9) (856,9.1) (866,3.9) (881,4.9) (896,-1.4) (906,2.6) (917,-7.9) (932,-9.3) (947,-1.0) (962,-7.0) (977,1.8) (992,-1.5) (1006,5.3) (1021,2.6) (1036,4.2) (1051,10.0) (1066,7.8) (1081,9.9) (1096,12.3) (1111,14.3) (1121,16.0) (1126,17.0) (1136,16.1) (1151,18.0) (1166,12.6) (1181,14.9) (1196,9.0) (1211,11.6) (1226,7.3) (1241,5.9) (1256,3.2) (1266,0.9) (1276,-5.3) (1291,-7.6) (1306,-1.5) (1321,-4.0) (1339,-4.5) (1354,3.1) (1366,-1.9) (1381,5.6) (1396,7.6) (1411,5.3) (1426,11.8) (1441,9.4) (1456,15.3) (1471,13.6) (1486,18.3) (1494,15.2)
};
\addplot[lstmk, forget plot] coordinates {
(29,16.5) (34,19.4) (39,16.0) (46,18.0) (52,14.3) (55,17.2) (63,13.2) (68,15.8) (75,11.8) (80,14.0) (85,9.9) (90,12.4) (95,8.4) (100,10.5) (105,7.0) (108,9.6) (113,5.6) (118,8.2) (123,4.3) (128,6.9) (133,2.6) (138,5.2) (143,1.0) (145,3.8) (150,-0.5) (155,2.6) (160,-1.8) (163,1.0) (168,-3.6) (173,-0.8) (178,-4.6) (183,-2.0) (190,-4.8) (195,-8.2) (201,-3.2) (208,-7.4) (213,-2.6) (218,-8.6) (222,-5.1) (227,-6.8) (232,-2.9) (236,-7.5) (241,-4.2) (248,-5.5) (253,-1.2) (257,-3.9) (262,-2.5) (267,1.0) (271,-1.6) (274,3.0)
(279,1.2) (284,5.6) (289,1.6) (294,7.4) (299,3.4) (304,8.4) (309,5.1) (314,9.9) (319,7.1) (324,11.0) (329,8.6) (334,12.6) (339,10.1) (344,13.6) (349,11.5) (354,15.0) (356,12.6) (361,16.0) (366,13.9) (371,16.7) (376,14.6) (381,17.5) (384,15.4) (389,18.0) (394,16.0) (399,16.4) (404,18.4) (411,16.0) (416,18.2) (421,15.5) (426,17.4) (431,14.6) (436,16.9) (444,15.5) (449,12.4) (454,14.4) (459,10.9) (464,12.8) (469,9.6) (474,11.2) (479,8.0) (481,10.1) (486,7.0) (491,8.4) (494,5.6) (499,7.3) (504,3.9) (506,6.1) (514,2.2) (516,4.6) (521,0.8) (524,3.3) (529,-0.8) (531,1.9) (536,-1.9) (539,0.6) (544,-3.2) (546,-0.6) (549,-4.8) (551,-1.6)
(554,-6.2) (559,-2.8) (561,-8.4) (564,-4.3) (569,-7.4) (571,-3.6) (574,-9.0) (576,-5.0) (579,-7.9) (581,-3.2) (584,-8.6) (586,-5.9) (589,-2.6) (594,-7.2) (596,-4.6) (599,-1.8) (601,-5.4) (604,-3.6) (609,-6.0) (611,-1.2) (614,-5.8) (616,-2.0) (619,-4.4) (624,-0.4) (626,-3.9) (629,-2.3) (631,0.6) (634,-2.8) (639,1.0) (641,-1.9) (644,2.6) (646,0.0) (649,3.6) (654,0.4)
(659,2.6) (661,5.1) (664,3.0) (666,5.8) (669,4.6) (671,7.3) (674,5.6) (679,8.2) (681,5.7) (684,8.8) (686,7.4) (691,9.6) (694,7.8) (696,10.5) (699,8.4) (701,11.0) (704,9.2) (706,12.0) (709,10.0) (711,12.7) (714,10.9) (719,14.0) (721,11.6) (724,15.0) (726,12.7) (731,15.8) (734,13.6) (736,16.4) (739,14.6) (744,17.2) (746,15.1) (749,17.6) (751,15.6) (754,18.1) (759,16.0) (761,18.3) (764,16.2) (769,17.3) (771,18.7) (774,16.3) (776,18.2) (779,16.0) (784,17.8) (786,15.6) (789,17.3) (791,14.6) (794,16.5) (799,14.0) (801,15.8) (804,13.0) (806,15.3) (809,12.6) (814,14.3) (816,11.9) (819,13.6) (821,10.8) (824,12.9) (829,9.6) (831,12.0) (834,9.0) (836,11.3) (839,8.3) (844,10.0) (846,7.5) (849,9.2) (851,6.6) (854,8.6) (859,5.6) (861,7.8) (864,4.6) (869,6.3) (871,3.3) (874,5.2) (876,2.4) (879,4.2) (884,1.5) (886,3.6) (889,0.6) (891,2.6) (894,-0.6) (899,1.6) (901,-1.4) (904,0.9) (906,-2.2) (909,0.8)
(912,-3.2) (914,-1.4) (919,-5.5) (922,-2.0) (924,-6.6) (927,-3.0) (929,-6.2) (934,-4.6) (937,-8.4) (939,-2.4) (942,-5.8) (944,-3.9) (949,-6.0) (952,-1.6) (954,-4.0) (957,-2.6) (959,-5.0) (964,-1.5) (967,-3.4) (969,0.4) (972,-1.2) (974,-3.7) (979,-0.4) (982,1.9) (984,-1.1) (987,2.6) (989,0.0) (994,2.2) (997,0.6) (999,4.0)
(1001,3.6) (1004,1.6) (1006,4.4) (1009,2.6) (1011,5.2) (1014,3.0) (1016,5.5) (1019,3.6) (1021,6.1) (1024,4.2) (1026,6.6) (1029,4.6) (1031,7.2) (1034,5.3) (1036,7.8) (1039,6.0) (1041,8.4) (1044,6.4) (1046,9.0) (1049,7.1) (1051,9.4) (1054,7.9) (1056,10.3) (1059,8.5) (1061,11.0) (1064,9.2) (1066,11.6) (1069,9.9) (1071,12.5) (1074,10.6) (1076,13.1) (1079,11.2) (1081,13.7) (1084,12.0) (1086,14.6) (1089,12.7) (1091,15.4) (1094,13.5) (1096,16.0) (1099,14.0) (1101,16.7) (1104,15.1) (1106,17.4) (1109,15.2) (1111,18.0) (1114,16.0) (1116,18.5) (1119,16.5) (1121,18.9) (1124,16.8) (1129,18.2) (1131,16.9) (1134,18.7) (1139,16.4) (1141,18.3) (1144,15.6) (1146,17.8) (1149,15.0) (1154,17.0) (1156,14.4) (1159,16.5) (1161,13.8) (1164,16.0) (1169,13.0) (1171,15.6) (1174,12.4) (1176,15.0) (1179,11.7) (1184,14.1) (1186,11.0) (1189,13.2) (1191,10.2) (1194,12.6) (1199,9.3) (1201,11.8) (1204,8.6) (1206,10.9) (1209,7.6) (1214,9.8) (1216,6.4) (1219,8.9) (1221,5.5) (1224,8.0) (1229,4.2) (1231,6.9) (1234,3.4) (1236,5.8) (1239,2.6) (1244,4.6) (1246,1.2) (1249,3.6) (1251,0.2) (1254,2.7) (1259,-0.9) (1261,1.6) (1264,-2.0) (1269,0.3) (1271,-3.2) (1274,-0.8) (1279,-4.8)
(1281,-1.8) (1284,-5.8) (1286,-2.6) (1289,-6.7) (1291,-3.4) (1294,-7.8) (1296,-3.9) (1299,-6.4) (1301,-2.6) (1304,-8.2) (1306,-4.4) (1309,-7.0) (1311,-3.5) (1314,-7.5) (1316,-5.2) (1319,-9.0) (1321,-6.3) (1324,-7.6) (1326,-4.5) (1329,-8.0) (1331,-1.6) (1334,-3.8) (1336,-0.2) (1339,-2.2) (1341,1.5) (1344,-1.3) (1346,0.8) (1349,-2.3) (1351,0.9) (1354,-0.8) (1356,2.4) (1359,-0.4) (1361,2.6) (1364,0.7) (1366,3.0) (1369,0.8)
(1371,3.6) (1374,1.8) (1376,4.4) (1379,2.6) (1381,4.8) (1384,3.0) (1386,5.4) (1389,3.5) (1391,6.0) (1394,4.1) (1396,6.6) (1399,4.6) (1401,7.2) (1404,5.0) (1406,7.8) (1409,5.8) (1411,8.5) (1414,6.4) (1416,9.2) (1419,7.0) (1421,9.8) (1424,7.8) (1426,10.4) (1429,8.6) (1431,11.4) (1434,9.4) (1436,12.2) (1439,10.0) (1441,12.8) (1444,10.9) (1446,13.6) (1449,11.6) (1451,14.4) (1454,12.2) (1456,14.9) (1459,13.0) (1461,15.6) (1464,13.6) (1466,16.2) (1469,14.2) (1471,16.8) (1474,14.8) (1476,17.4) (1479,15.4) (1481,17.8) (1484,15.8) (1486,18.0) (1489,16.1) (1491,18.4) (1494,16.3) (1496,17.9) (1498,15.9)
};
\end{axis}
\path ([yshift=1.5pt]current bounding box.north);
\end{tikzpicture}
\end{document}
